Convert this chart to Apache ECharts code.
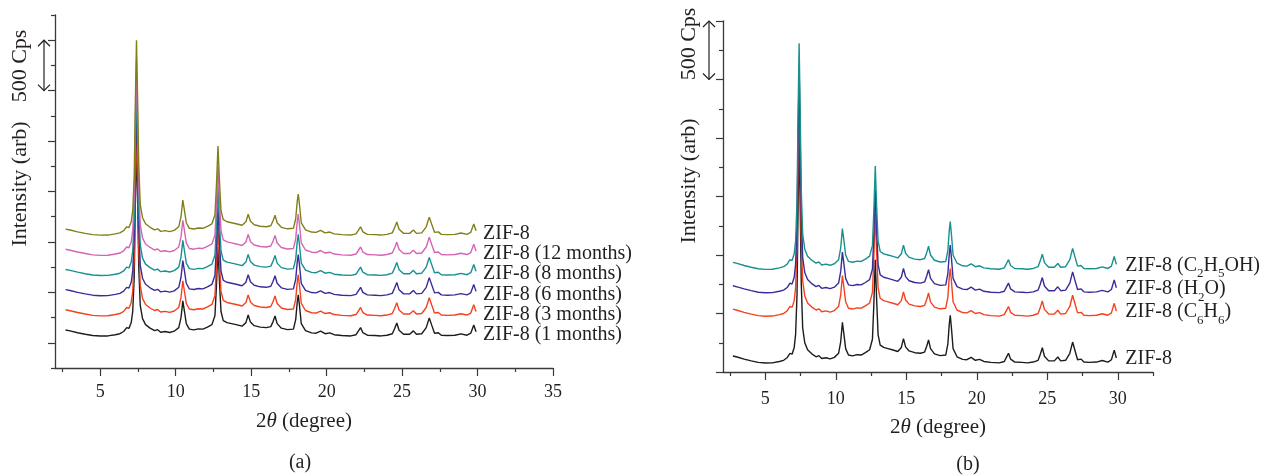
<!DOCTYPE html>
<html>
<head>
<meta charset="utf-8">
<script src="https://cdn.jsdelivr.net/npm/echarts@6/dist/echarts.min.js"></script>
<style>html,body{margin:0;padding:0;background:#fff;}#c{width:1274px;height:476px;}</style>
</head>
<body>
<div id="c"></div>
<script>
// 2θ positions (degree), shared by all patterns
const twoTheta = [2.7,3.0,3.5,4.0,4.5,5.0,5.5,6.0,6.3,6.55,6.75,6.9,7.05,7.15,7.25,7.32,7.4,7.47,7.55,7.65,7.8,8.0,8.3,8.6,8.8,9.0,9.3,9.6,9.9,10.2,10.35,10.47,10.58,10.7,10.9,11.2,11.5,11.8,12.1,12.4,12.6,12.7,12.8,12.9,13.0,13.15,13.4,13.7,14.0,14.4,14.65,14.8,14.95,15.2,15.6,16.0,16.3,16.45,16.58,16.72,17.0,17.4,17.8,17.95,18.05,18.12,18.2,18.32,18.6,19.0,19.3,19.6,19.9,20.2,20.5,21.0,21.6,21.95,22.1,22.25,22.4,22.7,23.2,23.6,24.0,24.35,24.5,24.65,24.8,25.1,25.5,25.75,25.95,26.3,26.6,26.8,26.95,27.15,27.4,27.6,28.0,28.5,28.9,29.3,29.55,29.75,29.9];

// Panel (a): intensities (Cps, stacked with vertical offsets as plotted)
const a_1month = [377,368,350,335,322,317,318,330,340,362,400,392,450,560,900,1600,2250,1700,1000,620,490,430,395,370,380,355,362,352,365,400,500,665,560,440,385,378,388,385,405,430,520,820,1200,850,560,470,450,440,430,415,450,525,455,420,405,400,410,460,515,440,395,380,385,480,650,725,620,440,370,348,345,365,340,348,330,322,318,330,365,400,350,325,322,318,325,340,390,447,375,335,335,368,335,340,400,496,430,345,350,325,322,325,338,325,345,427,360];
const a_3month = [577,568,550,535,522,517,518,530,540,562,600,592,650,760,1100,1800,2450,1900,1200,820,690,630,595,570,580,555,562,552,565,600,700,865,760,640,585,578,588,585,605,630,720,1020,1400,1050,760,670,650,640,630,615,650,725,655,620,605,600,610,660,715,640,595,580,585,680,850,925,820,640,570,548,545,565,540,548,530,522,518,530,565,600,550,525,522,518,525,540,590,647,575,535,535,568,535,540,600,696,630,545,550,525,522,525,538,525,545,627,560];
const a_6month = [777,768,750,735,722,717,718,730,740,762,800,792,850,960,1300,2000,2650,2100,1400,1020,890,830,795,770,780,755,762,752,765,800,900,1065,960,840,785,778,788,785,805,830,920,1220,1600,1250,960,870,850,840,830,815,850,925,855,820,805,800,810,860,915,840,795,780,785,880,1050,1125,1020,840,770,748,745,765,740,748,730,722,718,730,765,800,750,725,722,718,725,740,790,847,775,735,735,768,735,740,800,896,830,745,750,725,722,725,738,725,745,827,760];
const a_8month = [977,968,950,935,922,917,918,930,940,962,1000,992,1050,1160,1500,2200,2850,2300,1600,1220,1090,1030,995,970,980,955,962,952,965,1000,1100,1265,1160,1040,985,978,988,985,1005,1030,1120,1420,1800,1450,1160,1070,1050,1040,1030,1015,1050,1125,1055,1020,1005,1000,1010,1060,1115,1040,995,980,985,1080,1250,1325,1220,1040,970,948,945,965,940,948,930,922,918,930,965,1000,950,925,922,918,925,940,990,1047,975,935,935,968,935,940,1000,1096,1030,945,950,925,922,925,938,925,945,1027,960];
const a_12month = [1177,1168,1150,1135,1122,1117,1118,1130,1140,1162,1200,1192,1250,1360,1700,2400,3050,2500,1800,1420,1290,1230,1195,1170,1180,1155,1162,1152,1165,1200,1300,1465,1360,1240,1185,1178,1188,1185,1205,1230,1320,1620,2000,1650,1360,1270,1250,1240,1230,1215,1250,1325,1255,1220,1205,1200,1210,1260,1315,1240,1195,1180,1185,1280,1450,1525,1420,1240,1170,1148,1145,1165,1140,1148,1130,1122,1118,1130,1165,1200,1150,1125,1122,1118,1125,1140,1190,1247,1175,1135,1135,1168,1135,1140,1200,1296,1230,1145,1150,1125,1122,1125,1138,1125,1145,1227,1160];
const a_fresh = [1377,1368,1350,1335,1322,1317,1318,1330,1340,1362,1400,1392,1450,1560,1900,2600,3250,2700,2000,1620,1490,1430,1395,1370,1380,1355,1362,1352,1365,1400,1500,1665,1560,1440,1385,1378,1388,1385,1405,1430,1520,1820,2200,1850,1560,1470,1450,1440,1430,1415,1450,1525,1455,1420,1405,1400,1410,1460,1515,1440,1395,1380,1385,1480,1650,1725,1620,1440,1370,1348,1345,1365,1340,1348,1330,1322,1318,1330,1365,1400,1350,1325,1322,1318,1325,1340,1390,1447,1375,1335,1335,1368,1335,1340,1400,1496,1430,1345,1350,1325,1322,1325,1338,1325,1345,1427,1360];

// Panel (b)
const b_zif8 = [137,128,110,95,82,77,78,90,100,122,160,152,210,320,660,1360,2010,1460,760,380,250,190,155,130,140,115,122,112,125,160,260,425,320,200,145,138,148,145,165,190,280,580,960,610,320,230,210,200,190,175,210,285,215,180,165,160,170,220,275,200,155,140,145,240,410,485,380,200,130,108,105,125,100,108,90,82,78,90,125,160,110,85,82,78,85,100,150,207,135,95,95,128,95,100,160,256,190,105,110,85,82,85,98,85,105,187,120];
const b_c6h6 = [537,528,510,495,482,477,478,490,500,522,560,552,610,720,1060,1760,2410,1860,1160,780,650,590,555,530,540,515,522,512,525,560,660,825,720,600,545,538,548,545,565,590,680,980,1360,1010,720,630,610,600,590,575,610,685,615,580,565,560,570,620,675,600,555,540,545,640,810,885,780,600,530,508,505,525,500,508,490,482,478,490,525,560,510,485,482,478,485,500,550,607,535,495,495,528,495,500,560,656,590,505,510,485,482,485,498,485,505,587,520];
const b_h2o = [737,728,710,695,682,677,678,690,700,722,760,752,810,920,1260,1960,2610,2060,1360,980,850,790,755,730,740,715,722,712,725,760,860,1025,920,800,745,738,748,745,765,790,880,1180,1560,1210,920,830,810,800,790,775,810,885,815,780,765,760,770,820,875,800,755,740,745,840,1010,1085,980,800,730,708,705,725,700,708,690,682,678,690,725,760,710,685,682,678,685,700,750,807,735,695,695,728,695,700,760,856,790,705,710,685,682,685,698,685,705,787,720];
const b_etoh = [937,928,910,895,882,877,878,890,900,922,960,952,1010,1120,1460,2160,2810,2260,1560,1180,1050,990,955,930,940,915,922,912,925,960,1060,1225,1120,1000,945,938,948,945,965,990,1080,1380,1760,1410,1120,1030,1010,1000,990,975,1010,1085,1015,980,965,960,970,1020,1075,1000,955,940,945,1040,1210,1285,1180,1000,930,908,905,925,900,908,890,882,878,890,925,960,910,885,882,878,885,900,950,1007,935,895,895,928,895,900,960,1056,990,905,910,885,882,885,898,885,905,987,920];

// Tick values
const aMajorX = [5,10,15,20,25,30,35];
const aMinorX = [2.5,7.5,12.5,17.5,22.5,27.5,32.5];
const bMajorX = [5,10,15,20,25,30];
const bMinorX = [2.5,7.5,12.5,17.5,22.5,27.5,32.5];
const scaleBar = 500; // Cps

const FONT = 'Liberation Serif';
const TXT = '#231f20';
const AX = '#3a3a3a';

const namesA = ['ZIF-8 (1 months)','ZIF-8 (3 months)','ZIF-8 (6 months)','ZIF-8 (8 months)','ZIF-8 (12 months)','ZIF-8'];
const dataA = [a_1month,a_3month,a_6month,a_8month,a_12month,a_fresh];
const colorsA = ['#1c1c1c','#f4421f','#3a2c98','#17908f','#d563b6','#80801a'];
const namesB = ['ZIF-8','ZIF-8 (C6H6)','ZIF-8 (H2O)','ZIF-8 (C2H5OH)'];
const dataB = [b_zif8,b_c6h6,b_h2o,b_etoh];
const colorsB = ['#1c1c1c','#f4421f','#3a2c98','#17908f'];
const labelsB = [
  '{n|ZIF-8}',
  '{n|ZIF-8 (C}{s|6}{n|H}{s|6}{n|)}',
  '{n|ZIF-8 (H}{s|2}{n|O)}',
  '{n|ZIF-8 (C}{s|2}{n|H}{s|5}{n|OH)}'
];

const rich = {
  n: {fontFamily: FONT, fontSize: 20, color: TXT, lineHeight: 22, verticalAlign: 'top'},
  s: {fontFamily: FONT, fontSize: 13, color: TXT, lineHeight: 13, padding: [12,0,0,0], verticalAlign: 'top'}
};

function zip(arr){ return twoTheta.map((x,i)=>[x, arr[i]]); }

const series = [];
dataA.forEach((d,i)=>{
  series.push({
    type:'line', name:namesA[i], xAxisIndex:0, yAxisIndex:0, data: zip(d),
    showSymbol:false, symbol:'none', lineStyle:{width:1.4, color:colorsA[i]}, itemStyle:{color:colorsA[i]},
    endLabel:{show:true, formatter:namesA[i], distance:7, fontFamily:FONT, fontSize:20, color:TXT, offset:[0,3]},
    silent:true, animation:false
  });
});
dataB.forEach((d,i)=>{
  series.push({
    type:'line', name:namesB[i], xAxisIndex:2, yAxisIndex:1, data: zip(d),
    showSymbol:false, symbol:'none', lineStyle:{width:1.4, color:colorsB[i]}, itemStyle:{color:colorsB[i]},
    endLabel:{show:true, formatter:labelsB[i], distance:9, rich: rich, offset:[0,2]},
    silent:true, animation:false
  });
});

function xMain(grid, max, ticks, gap, margin){
  return {type:'value', gridIndex:grid, min:2, max:max, position:'bottom',
    axisLine:{show:true, onZero:false, lineStyle:{color:AX, width:1.3}},
    axisTick:{show:true, customValues:ticks, length:8, lineStyle:{color:AX, width:1.2}},
    axisLabel:{show:true, customValues:ticks, fontFamily:FONT, fontSize:18, color:TXT, margin:margin},
    splitLine:{show:false},
    name:'{n|2}{i|θ}{n| (degree)}', nameLocation:'middle', nameGap:gap,
    nameTextStyle:{rich:{n:{fontFamily:FONT, fontSize:21, color:TXT}, i:{fontFamily:FONT, fontSize:21, fontStyle:'italic', color:TXT}}}
  };
}
function xMinor(grid, max, ticks){
  return {type:'value', gridIndex:grid, min:2, max:max, position:'bottom',
    axisLine:{show:false, onZero:false},
    axisTick:{show:true, customValues:ticks, length:4, lineStyle:{color:AX, width:1.2}},
    axisLabel:{show:false}, splitLine:{show:false}};
}

const option = {
  backgroundColor:'#fff',
  animation:false,
  grid:[
    {left:55, top:15, width:498, height:353, containLabel:false},
    {left:723, top:21, width:430, height:351, containLabel:false}
  ],
  xAxis:[
    xMain(0, 35, aMajorX, 43, 15),
    xMinor(0, 35, aMinorX),
    xMain(1, 32.5, bMajorX, 45, 18),
    xMinor(1, 32.5, bMinorX)
  ],
  yAxis:[
    {type:'value', gridIndex:0, min:0, max:3500, interval:500,
      axisLine:{show:true, onZero:false, lineStyle:{color:AX, width:1.3}},
      axisTick:{show:true, length:4, lineStyle:{color:AX, width:1.2}},
      minorTick:{show:true, splitNumber:2, length:7, lineStyle:{color:AX, width:1.2}},
      axisLabel:{show:false}, splitLine:{show:false}, minorSplitLine:{show:false}},
    {type:'value', gridIndex:1, min:0, max:3000, interval:500,
      axisLine:{show:true, onZero:false, lineStyle:{color:AX, width:1.3}},
      axisTick:{show:true, length:7, lineStyle:{color:AX, width:1.2}},
      minorTick:{show:true, splitNumber:2, length:4, lineStyle:{color:AX, width:1.2}},
      axisLabel:{show:false}, splitLine:{show:false}, minorSplitLine:{show:false}}
  ],
  series: series
};

const chart = echarts.init(document.getElementById('c'), null, {renderer:'canvas'});
chart.setOption(option);

// Scale bars (500 Cps) placed through the axes
function arrow(gridIndex, topVal, dx){
  const p = chart.convertToPixel({gridIndex:gridIndex}, [2, topVal]);
  const top = p[1];
  const bot = chart.convertToPixel({gridIndex:gridIndex}, [2, topVal - scaleBar])[1];
  const x = p[0] - dx;
  const st = {stroke:'#231f20', lineWidth:1.2, fill:null};
  return [
    {type:'line', shape:{x1:x, y1:top, x2:x, y2:bot}, style:st, silent:true},
    {type:'polyline', shape:{points:[[x-6,top+6],[x,top],[x+6,top+6]]}, style:st, silent:true},
    {type:'polyline', shape:{points:[[x-6,bot-6],[x,bot],[x+6,bot-6]]}, style:st, silent:true}
  ];
}
function vtext(x, y, t, fs){
  return {type:'text', x:x, y:y, rotation:Math.PI/2, silent:true,
    style:{text:t, fontFamily:FONT, fontSize:fs, fill:TXT, textAlign:'center', textVerticalAlign:'middle'}};
}
function htext(x, y, t){
  return {type:'text', x:x, y:y, silent:true,
    style:{text:t, fontFamily:FONT, fontSize:20, fill:TXT, textAlign:'center', textVerticalAlign:'middle'}};
}
const graphics = []
  .concat(arrow(0, 3250, 11))
  .concat(arrow(1, 3000, 14))
  .concat([
    vtext(20, 184, 'Intensity (arb)', 22),
    vtext(20, 66, '500 Cps', 22),
    vtext(689, 181, 'Intensity (arb)', 22),
    vtext(689, 44, '500 Cps', 22),
    htext(300, 463, '(a)'),
    htext(968, 465, '(b)')
  ]);
chart.setOption({graphic:{elements:graphics}});
</script>
</body>
</html>
